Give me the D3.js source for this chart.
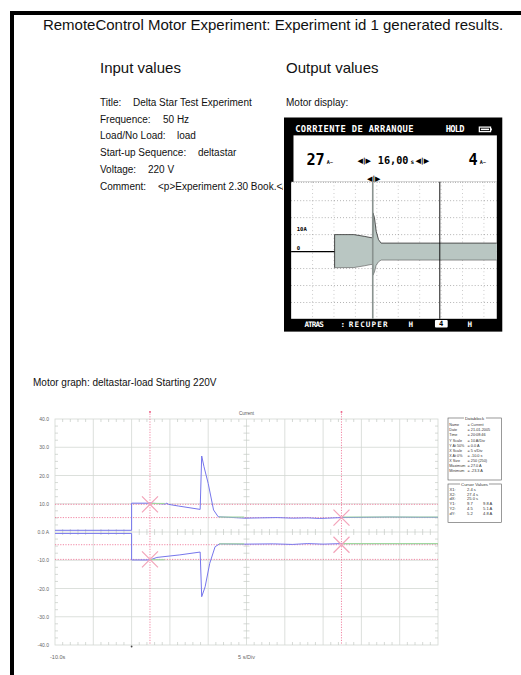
<!DOCTYPE html>
<html>
<head>
<meta charset="utf-8">
<script src="https://cdn.jsdelivr.net/npm/d3@7"></script>
<style>
body { margin: 0; background: #fff; }
text { font-family: "Liberation Sans", Arial, sans-serif; }
.lcd text { font-family: "DejaVu Sans Mono", monospace; font-weight: bold; }
.lcd text.sym { font-family: "DejaVu Sans", sans-serif; }
</style>
</head>
<body>
<svg id="page" width="521" height="675"></svg>
<script>
// ---- data ----
const pageTitle = "RemoteControl Motor Experiment: Experiment id 1 generated results.";
const inputLabels = ["Title:", "Frequence:", "Load/No Load:", "Start-up Sequence:", "Voltage:", "Comment:"];
const inputValues = ["Delta Star Test Experiment", "50 Hz", "load", "deltastar", "220 V", "<p>Experiment 2.30 Book.</p>"];

// LCD (motor display) trace, x in divisions, y in amps
const lcdTime  = [2.03, 2.93, 3.41, 3.73, 3.81, 3.82, 3.89, 3.97, 4.08, 4.2, 6.5, 9.6];
const lcdUpper = [10, 10, 9, 8.2, 8.2, 22.8, 20, 12, 7, 5, 5, 5];
const lcdLower = [-9.5, -9.4, -8.4, -7.6, -7.6, -13.9, -12, -8, -6, -5, -5, -5];
const lcdCursor = 3.81;
const lcdMarker = 6.94;
const lcdMenu = ["ATRAS", ":", "RECUPER"];

// motor graph traces (seconds, amps)
const upperT = [-10, 0, 0, 2.6, 4.4, 4.6, 4.8, 6.1, 8.95, 9.15, 9.45, 10.0, 10.7, 11.3, 14.8, 16.8, 19, 21, 23, 24.5, 25.6, 27.4, 33.7, 37.6, 40];
const upperA = [0.6, 0.6, 10.2, 10.2, 9.9, 10.2, 9.8, 9.2, 8.0, 26.9, 23.1, 17.2, 7.8, 5.4, 4.9, 5.0, 5.1, 4.9, 5.0, 4.8, 4.9, 5.1, 5.3, 5.2, 5.2];
const lowerT = [-10, 0, 0, 2.4, 3.3, 6.3, 8.95, 9.15, 9.6, 10.2, 10.9, 11.5, 14.8, 18.5, 21, 23, 25, 27.4, 40];
const lowerA = [-0.5, -0.5, -9.9, -9.9, -9.0, -8.1, -7.1, -22.9, -19.4, -11.1, -5.2, -4.2, -4.3, -4.2, -4.4, -4.1, -4.3, -4.1, -4.1];
const greenStart = [2.5, 11.4, 27.5];
const greenEnd   = [4.3, 14.7, 40];
const greenUpper = [10.1, 5.3, 5.3];
const greenLower = [-9.8, -4.2, -4.1];

const cursorX = [2.4, 27.4];
const cursorYUpper = [9.8, 5.1];
const cursorYLower = [-9.7, -4.5];

const yTicks = [40, 30, 20, 10, 0, -10, -20, -30, -40];
const yTickLabels = ["40.0", "30.0", "20.0", "10.0", "0.0 A", "-10.0", "-20.0", "-30.0", "-40.0"];

const dataBlockLabels = ["Name", "Date", "Time", "Y Scale", "Y At 50%", "X Scale", "X At 0%", "X Size", "Maximum", "Minimum"];
const dataBlockValues = ["= Current", "= 21-01-2005", "= 20:08:46", "= 10   A/Div", "= 0.0 A", "= 5   s/Div", "= -10.0 s", "= 250 (250)", "= 27.0 A", "= -23.3 A"];
const cursorLabels = ["X1:", "X2:", "dX:", "Y1:", "Y2:", "dY:"];
const cursorCol1 = ["2.4 s", "27.4 s", "25.0 s", "9.7", "4.5", "5.2"];
const cursorCol2 = ["", "", "", "9.8 A", "5.1 A", "4.8 A"];

const svg = d3.select("#page");

// page frame
svg.append("rect").attr("x", 10).attr("y", 11).attr("width", 511).attr("height", 4).attr("fill", "#000");
svg.append("rect").attr("x", 10).attr("y", 11).attr("width", 4).attr("height", 664).attr("fill", "#000");

svg.append("text").attr("x", 273).attr("y", 30).attr("text-anchor", "middle")
    .attr("font-size", 15).attr("fill", "#111").text(pageTitle);

svg.append("text").attr("x", 100).attr("y", 73).attr("font-size", 15).attr("fill", "#111").text("Input values");
svg.append("text").attr("x", 286).attr("y", 73).attr("font-size", 15).attr("fill", "#111").text("Output values");

svg.append("clipPath").attr("id", "leftclip")
    .append("rect").attr("x", 0).attr("y", 0).attr("width", 283).attr("height", 675);

const valueX = [133, 163, 177, 198, 148, 158];
const inputs = svg.append("g").attr("clip-path", "url(#leftclip)");
inputLabels.forEach(function(l, i) {
    const yy = 106 + i * 16.7;
    inputs.append("text").attr("x", 100).attr("y", yy).attr("font-size", 10).attr("fill", "#111").text(l);
    inputs.append("text").attr("x", valueX[i]).attr("y", yy).attr("font-size", 10).attr("fill", "#111").text(inputValues[i]);
});
svg.append("text").attr("x", 286).attr("y", 106).attr("font-size", 10).attr("fill", "#111").text("Motor display:");

// ---- LCD ----
const lcd = svg.append("g").attr("class", "lcd").attr("transform", "translate(284,117.5) scale(1.02,1.01)");
const lw = 214, lh = 212;
lcd.append("rect").attr("width", lw).attr("height", lh).attr("fill", "#000");
lcd.append("text").attr("x", 11).attr("y", 14.5).attr("font-size", 8.6).attr("fill", "#fff")
    .attr("textLength", 116).text("CORRIENTE DE ARRANQUE");
lcd.append("text").attr("x", 158.5).attr("y", 14.5).attr("font-size", 8.6).attr("fill", "#fff")
    .attr("textLength", 18.5).text("HOLD");
lcd.append("rect").attr("x", 191.5).attr("y", 9.5).attr("width", 11).attr("height", 4.5)
    .attr("fill", "none").attr("stroke", "#fff").attr("stroke-width", 1.2);
lcd.append("rect").attr("x", 193).attr("y", 11).attr("width", 8).attr("height", 1.5).attr("fill", "#fff");
lcd.append("rect").attr("x", 202.5).attr("y", 10.8).attr("width", 1.3).attr("height", 2).attr("fill", "#fff");

lcd.append("rect").attr("x", 9.3).attr("y", 17.7).attr("width", 199.4).attr("height", 46).attr("fill", "#fff");
lcd.append("text").attr("x", 22).attr("y", 47).attr("font-size", 16).attr("fill", "#000")
    .attr("textLength", 18).attr("lengthAdjust", "spacingAndGlyphs").text("27");
lcd.append("text").attr("x", 42).attr("y", 46).attr("font-size", 5).attr("fill", "#000").text("A~");
lcd.append("text").attr("class", "sym").attr("x", 72).attr("y", 45.5).attr("font-size", 7).attr("fill", "#000").text("◀|▶");
lcd.append("text").attr("x", 92).attr("y", 46.5).attr("font-size", 11).attr("fill", "#000")
    .attr("textLength", 30).attr("lengthAdjust", "spacingAndGlyphs").text("16,00");
lcd.append("text").attr("x", 124).attr("y", 46.5).attr("font-size", 6).attr("fill", "#000").text("s");
lcd.append("text").attr("class", "sym").attr("x", 129).attr("y", 45.5).attr("font-size", 7).attr("fill", "#000").text("◀|▶");
lcd.append("text").attr("x", 181).attr("y", 47).attr("font-size", 16).attr("fill", "#000")
    .attr("textLength", 9).attr("lengthAdjust", "spacingAndGlyphs").text("4");
lcd.append("text").attr("x", 192).attr("y", 46).attr("font-size", 5).attr("fill", "#000").text("A~");
lcd.append("text").attr("class", "sym").attr("x", 88).attr("y", 62.5).attr("text-anchor", "middle")
    .attr("font-size", 7).attr("fill", "#000").text("◀|▶");

const lx = d3.scaleLinear().domain([0, 9.6]).range([7, 208.6]);
const ly = d3.scaleLinear().domain([-39.6, 41.1]).range([199.3, 63.7]);
lcd.append("rect").attr("x", lx(0)).attr("y", ly(41.1)).attr("width", lx(9.6) - lx(0))
    .attr("height", ly(-39.6) - ly(41.1)).attr("fill", "#fff");
lcd.append("line").attr("x1", lx(0)).attr("x2", lx(9.6)).attr("y1", ly(41.1) + 0.5).attr("y2", ly(41.1) + 0.5)
    .attr("stroke", "#777").attr("stroke-width", 0.8).attr("stroke-dasharray", "0.8,1.6");
d3.range(1, 10).forEach(function(d) {
    lcd.append("line").attr("x1", lx(d)).attr("x2", lx(d)).attr("y1", ly(41.1)).attr("y2", ly(-39.6))
        .attr("stroke", "#888").attr("stroke-width", 0.6).attr("stroke-dasharray", "0.7,3");
});
d3.range(-30, 31, 10).forEach(function(d) {
    lcd.append("line").attr("x1", lx(0)).attr("x2", lx(9.6)).attr("y1", ly(d)).attr("y2", ly(d))
        .attr("stroke", "#666").attr("stroke-width", 0.6).attr("stroke-dasharray", "0.8,2.2");
});
const lcdArea = d3.area().x((d, i) => lx(lcdTime[i])).y0((d, i) => ly(lcdLower[i])).y1((d, i) => ly(lcdUpper[i]));
lcd.append("path").datum(lcdTime).attr("d", lcdArea).attr("fill", "#b9c6c2");
lcd.append("path").datum(lcdTime)
    .attr("d", d3.line().x((d, i) => lx(lcdTime[i])).y((d, i) => ly(lcdUpper[i])))
    .attr("fill", "none").attr("stroke", "#333").attr("stroke-width", 0.8);
lcd.append("path").datum(lcdTime)
    .attr("d", d3.line().x((d, i) => lx(lcdTime[i])).y((d, i) => ly(lcdLower[i])))
    .attr("fill", "none").attr("stroke", "#555").attr("stroke-width", 0.6);
lcd.append("line").attr("x1", lx(0)).attr("x2", lx(lcdTime[0])).attr("y1", ly(0)).attr("y2", ly(0))
    .attr("stroke", "#000").attr("stroke-width", 1.2);
lcd.append("line").attr("x1", lx(lcdTime[0])).attr("x2", lx(lcdTime[0]))
    .attr("y1", ly(lcdUpper[0])).attr("y2", ly(lcdLower[0])).attr("stroke", "#222").attr("stroke-width", 0.8);
lcd.append("line").attr("x1", lx(lcdCursor)).attr("x2", lx(lcdCursor)).attr("y1", ly(41.1)).attr("y2", ly(-39.6))
    .attr("stroke", "#8a9390").attr("stroke-width", 1.6);
lcd.append("line").attr("x1", lx(lcdMarker)).attr("x2", lx(lcdMarker)).attr("y1", ly(41.1)).attr("y2", ly(-39.6))
    .attr("stroke", "#000").attr("stroke-width", 0.9);
lcd.append("text").attr("x", 12.5).attr("y", ly(10) - 4).attr("font-size", 5.5).attr("fill", "#000").text("10A");
lcd.append("text").attr("x", 12.5).attr("y", ly(0) - 1.5).attr("font-size", 5.5).attr("fill", "#000").text("0");

lcd.append("text").attr("x", 20).attr("y", 207).attr("font-size", 7.5).attr("fill", "#fff").attr("textLength", 19).text(lcdMenu[0]);
lcd.append("text").attr("x", 55.5).attr("y", 207).attr("font-size", 7.5).attr("fill", "#fff").text(lcdMenu[1]);
lcd.append("text").attr("x", 63.5).attr("y", 207).attr("font-size", 7.5).attr("fill", "#fff").attr("textLength", 38).text(lcdMenu[2]);
lcd.append("text").attr("x", 122).attr("y", 207).attr("font-size", 7.5).attr("fill", "#fff").text("H");
lcd.append("rect").attr("x", 148).attr("y", 200.5).attr("width", 12.5).attr("height", 7.5).attr("rx", 1).attr("fill", "#fff");
lcd.append("text").attr("x", 154.2).attr("y", 206.8).attr("text-anchor", "middle").attr("font-size", 7).attr("fill", "#000").text("4");
lcd.append("text").attr("x", 180).attr("y", 207).attr("font-size", 7.5).attr("fill", "#fff").text("H");

// ---- motor graph ----
svg.append("text").attr("x", 33).attr("y", 386).attr("font-size", 10).attr("fill", "#111")
    .text("Motor graph: deltastar-load Starting 220V");

const x = d3.scaleLinear().domain([-10, 40]).range([55, 438]);
const y = d3.scaleLinear().domain([-40, 40]).range([645, 419]);
const g = svg.append("g");
const gridColor = "#d3d8d3";

g.append("rect").attr("x", x(-10)).attr("y", y(40)).attr("width", x(40) - x(-10)).attr("height", y(-40) - y(40))
    .attr("fill", "#fff").attr("stroke", gridColor).attr("stroke-width", 0.8);
d3.range(-5, 40, 5).forEach(function(d) {
    g.append("line").attr("x1", x(d)).attr("x2", x(d)).attr("y1", y(40)).attr("y2", y(-40))
        .attr("stroke", gridColor).attr("stroke-width", 0.8);
});
d3.range(-30, 31, 10).forEach(function(d) {
    g.append("line").attr("x1", x(-10)).attr("x2", x(40)).attr("y1", y(d)).attr("y2", y(d))
        .attr("stroke", gridColor).attr("stroke-width", 0.8);
});
// minor ticks
d3.range(-10, 40.01, 1).forEach(function(d) {
    if (d % 5 === 0) return;
    [[y(40), y(40) + 3], [y(-40) - 3, y(-40)], [y(0) - 3, y(0) + 3]].forEach(function(s) {
        g.append("line").attr("x1", x(d)).attr("x2", x(d)).attr("y1", s[0]).attr("y2", s[1])
            .attr("stroke", "#c4cac4").attr("stroke-width", 0.7);
    });
});
d3.range(-40, 40.01, 2.5).forEach(function(d) {
    if (d % 10 === 0) return;
    [[x(-10), x(-10) + 3], [x(40) - 3, x(40)], [x(15) - 3, x(15) + 3]].forEach(function(s) {
        g.append("line").attr("x1", s[0]).attr("x2", s[1]).attr("y1", y(d)).attr("y2", y(d))
            .attr("stroke", "#c4cac4").attr("stroke-width", 0.7);
    });
});

const yAxis = g.append("g").attr("transform", "translate(" + (x(-10) - 3) + ",0)")
    .call(d3.axisLeft(y).tickValues(yTicks).tickSize(0).tickFormat((d, i) => yTickLabels[i]));
yAxis.select(".domain").remove();
yAxis.selectAll("text").attr("font-size", 5).attr("fill", "#666")
    .attr("font-family", "'Liberation Sans', Arial, sans-serif");

g.append("text").attr("x", x(-10) - 5).attr("y", 659).attr("font-size", 5.5).attr("fill", "#666").text("-10.0s");
g.append("text").attr("x", x(15)).attr("y", 659).attr("text-anchor", "middle").attr("font-size", 5.5).attr("fill", "#666").text("5 s/Div");
g.append("text").attr("x", x(15)).attr("y", 415).attr("text-anchor", "middle").attr("font-size", 4.5).attr("fill", "#555").text("Current");
g.append("circle").attr("cx", x(0)).attr("cy", y(-40) + 1.5).attr("r", 0.9).attr("fill", "#444");

// cursor lines
const pink = "#ee6a8e";
cursorYUpper.concat(cursorYLower).forEach(function(v) {
    g.append("line").attr("x1", x(-10)).attr("x2", x(40)).attr("y1", y(v)).attr("y2", y(v))
        .attr("stroke", pink).attr("stroke-width", 0.8).attr("stroke-dasharray", "1.2,1.4");
});
cursorX.forEach(function(v) {
    g.append("line").attr("x1", x(v)).attr("x2", x(v)).attr("y1", y(40) - 8).attr("y2", y(-40))
        .attr("stroke", pink).attr("stroke-width", 0.8).attr("stroke-dasharray", "1.2,1.4");
    g.append("circle").attr("cx", x(v)).attr("cy", y(40) - 7).attr("r", 1).attr("fill", pink);
});

// traces
const line = d3.line();
const blue = "#7676ec";
g.append("path").attr("d", line(upperT.map((t, i) => [x(t), y(upperA[i])])))
    .attr("fill", "none").attr("stroke", blue).attr("stroke-width", 1);
g.append("path").attr("d", line(lowerT.map((t, i) => [x(t), y(lowerA[i])])))
    .attr("fill", "none").attr("stroke", blue).attr("stroke-width", 1);
greenStart.forEach(function(s, i) {
    [greenUpper[i], greenLower[i]].forEach(function(v) {
        g.append("line").attr("x1", x(s)).attr("x2", x(greenEnd[i])).attr("y1", y(v)).attr("y2", y(v))
            .attr("stroke", "#9fd89f").attr("stroke-width", 1.1);
    });
});

// cross markers
const markers = [[cursorX[0], cursorYUpper[0]], [cursorX[0], cursorYLower[0]], [cursorX[1], cursorYUpper[1]], [cursorX[1], cursorYLower[1]]];
markers.forEach(function(m) {
    const cx = x(m[0]), cy = y(m[1]), r = 8;
    g.append("path").attr("d", `M${cx - r},${cy - r}L${cx + r},${cy + r}M${cx - r},${cy + r}L${cx + r},${cy - r}`)
        .attr("stroke", "#f3a3b9").attr("stroke-width", 1.2).attr("fill", "none");
});

// datablock boxes
function box(top, height, title) {
    const b = g.append("g");
    b.append("rect").attr("x", 448).attr("y", top).attr("width", 53.5).attr("height", height)
        .attr("fill", "#fff").attr("stroke", "#555").attr("stroke-width", 0.6);
    const bg = b.append("rect").attr("fill", "#fff");
    const t = b.append("text").attr("x", 474.5).attr("y", top + 1.6).attr("text-anchor", "middle")
        .attr("font-size", 4.3).attr("fill", "#333").text(title);
    const bb = t.node().getBBox();
    bg.attr("x", bb.x - 1).attr("y", top - 1).attr("width", bb.width + 2).attr("height", 2);
    return b;
}
const db = box(418, 62, "Datablock");
const dbY = [426, 431, 436, 441.7, 446.5, 451.7, 456.6, 461.6, 466.6, 471.6];
dataBlockLabels.forEach(function(l, i) {
    db.append("text").attr("x", 449.3).attr("y", dbY[i]).attr("font-size", 3.7).attr("fill", "#333").text(l);
    db.append("text").attr("x", 467.5).attr("y", dbY[i]).attr("font-size", 3.8).attr("fill", "#333").text(dataBlockValues[i]);
});
const cv = box(484, 38.5, "Cursor Values");
const cvY = [491, 495.6, 500.2, 505.4, 510, 514.6];
cursorLabels.forEach(function(l, i) {
    cv.append("text").attr("x", 449.5).attr("y", cvY[i]).attr("font-size", 4.1).attr("fill", "#333").text(l);
    cv.append("text").attr("x", 467).attr("y", cvY[i]).attr("font-size", 4.1).attr("fill", "#333").text(cursorCol1[i]);
    cv.append("text").attr("x", 483).attr("y", cvY[i]).attr("font-size", 4.1).attr("fill", "#333").text(cursorCol2[i]);
});
</script>
</body>
</html>
